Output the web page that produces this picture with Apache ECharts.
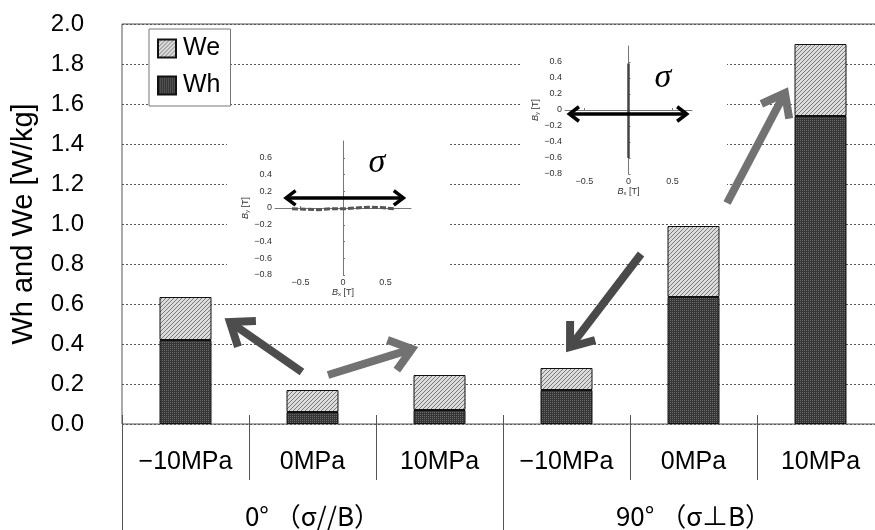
<!DOCTYPE html>
<html>
<head>
<meta charset="utf-8">
<script src="https://cdn.jsdelivr.net/npm/echarts@6/dist/echarts.min.js"></script>
<style>
  html, body { margin: 0; padding: 0; background: #fff; overflow: hidden; }
  /* plot frame runs a few px past the right edge of the picture, like the source figure */
  #main { width: 884px; height: 530px; }
</style>
</head>
<body>
<div id="main"></div>
<script>
// categories and values
const categories = ['−10MPa', '0MPa', '10MPa', '−10MPa', '0MPa', '10MPa'];
const groups = ['0° （σ//B）', '90° （σ⊥B）'];
const whValues = [0.42, 0.06, 0.07, 0.17, 0.635, 1.54];
const weValues = [0.215, 0.11, 0.175, 0.11, 0.355, 0.36];

// arrows in main chart: [x0, y0, x1, y1] (x on 0..6 category span, y in W/kg)
const bigArrows = [
  [1.417, 0.26, 0.85, 0.51],
  [1.622, 0.245, 2.283, 0.375],
  [4.087, 0.85, 3.528, 0.385],
  [4.764, 1.105, 5.22, 1.655]
];
const bigArrowColors = ['#4d4d4d', '#727272', '#4a4a4a', '#727272'];

// inset B loci
const inset1Loop = [[-0.6, -0.01], [-0.45, -0.015], [-0.3, -0.02], [-0.15, -0.01], [0, -0.01], [0.15, 0.0], [0.3, 0.01], [0.45, 0.005], [0.6, -0.01]];
const inset2Loop = [[0, -0.6], [0, -0.3], [0, 0], [0, 0.3], [0, 0.58]];
const inset1Arrow = [[-0.67, 0.12, 0.71, 0.12]];
const inset2Arrow = [[-0.67, -0.05, 0.66, -0.05]];
const inset1Sigma = [[0.4, 0.54]];
const inset2Sigma = [[0.39, 0.4]];
const insetXTicks = [-0.5, 0, 0.5];
const insetYTicks = [-0.8, -0.6, -0.4, -0.2, 0, 0.2, 0.4, 0.6];

function makePattern(kind) {
  const c = document.createElement('canvas');
  c.width = 4; c.height = 4;
  const ctx = c.getContext('2d');
  if (kind === 'we') {
    ctx.fillStyle = '#dcdcdc';
    ctx.fillRect(0, 0, 4, 4);
    ctx.fillStyle = '#7a7a7a';
    for (let i = 0; i < 4; i++) ctx.fillRect(i, 3 - i, 1, 1);
  } else {
    ctx.fillStyle = '#363636';
    ctx.fillRect(0, 0, 4, 4);
    ctx.fillStyle = '#6a6a6a';
    ctx.fillRect(0, 0, 1, 1);
    ctx.fillRect(2, 2, 1, 1);
    ctx.fillRect(2, 0, 1, 1);
    ctx.fillRect(0, 2, 1, 1);
  }
  return { image: c, repeat: 'repeat' };
}

function arrowHead(tip, ux, uy, len, ang) {
  const bx = -ux, by = -uy;
  const ca = Math.cos(ang), sa = Math.sin(ang);
  return [
    [tip[0] + len * (bx * ca - by * sa), tip[1] + len * (bx * sa + by * ca)],
    tip,
    [tip[0] + len * (bx * ca + by * sa), tip[1] + len * (-bx * sa + by * ca)]
  ];
}

function arrowRenderer(colors, width, headLen, both) {
  return function (params, api) {
    const p0 = api.coord([api.value(0), api.value(1)]);
    const p1 = api.coord([api.value(2), api.value(3)]);
    const dx = p1[0] - p0[0], dy = p1[1] - p0[1];
    const L = Math.hypot(dx, dy);
    const ux = dx / L, uy = dy / L;
    const color = colors[params.dataIndex % colors.length];
    const st = { stroke: color, lineWidth: width, fill: null, lineJoin: 'miter', lineCap: 'butt' };
    const children = [
      { type: 'line', shape: { x1: p0[0] + (both ? ux * 3 : 0), y1: p0[1] + (both ? uy * 3 : 0), x2: p1[0] - ux * 3, y2: p1[1] - uy * 3 }, style: st },
      { type: 'polyline', shape: { points: arrowHead(p1, ux, uy, headLen, 0.65) }, style: st }
    ];
    if (both) {
      children.push({ type: 'polyline', shape: { points: arrowHead(p0, -ux, -uy, headLen, 0.65) }, style: st });
    }
    return { type: 'group', children: children };
  };
}

function sigmaRenderer(params, api) {
  const p = api.coord([api.value(0), api.value(1)]);
  return {
    type: 'text',
    x: p[0], y: p[1],
    style: { text: 'σ', font: 'italic 34px "Liberation Serif"', fill: '#000', align: 'center', verticalAlign: 'middle' }
  };
}

function numFmt(v) {
  if (Math.abs(v) < 1e-9) return '0';
  return String(+v.toFixed(1)).replace('-', '−');
}

const insetNameStyle = {
  fontSize: 9, color: '#333',
  rich: {
    i: { fontStyle: 'italic', fontSize: 9, color: '#333' },
    s: { fontSize: 6, color: '#333', verticalAlign: 'bottom' }
  }
};

function insetX(gridIndex, min, max) {
  return {
    type: 'value', gridIndex: gridIndex, min: min, max: max, z: 2,
    name: '{i|B}{s|x} [T]', nameLocation: 'middle', nameGap: 10,
    nameTextStyle: insetNameStyle,
    axisLine: { show: true, lineStyle: { color: '#777', width: 1 } },
    axisTick: { show: true, inside: true, length: 2, customValues: insetXTicks, lineStyle: { color: '#777' } },
    axisLabel: { fontSize: 9, color: '#333', margin: 3, customValues: insetXTicks, formatter: numFmt },
    splitLine: { show: false }
  };
}

function insetY(gridIndex) {
  return {
    type: 'value', gridIndex: gridIndex, min: -0.8, max: 0.8, z: 2,
    name: '{i|B}{s|y} [T]', nameLocation: 'middle', nameGap: 22, nameRotate: 90,
    nameTextStyle: insetNameStyle,
    axisLine: { show: true, lineStyle: { color: '#777', width: 1 } },
    axisTick: { show: true, inside: true, length: 2, customValues: insetYTicks, lineStyle: { color: '#777' } },
    axisLabel: { fontSize: 9, color: '#333', margin: 3, customValues: insetYTicks, formatter: numFmt },
    splitLine: { show: false }
  };
}

const chart = echarts.init(document.getElementById('main'));

const option = {
  backgroundColor: '#fff',
  animation: false,
  textStyle: { fontFamily: '"Liberation Sans", Arial, sans-serif' },
  graphic: [
    { type: 'rect', z: 1, shape: { x: 227, y: 128, width: 223, height: 170 }, style: { fill: '#fff' } },
    { type: 'rect', z: 1, shape: { x: 520, y: 33, width: 207, height: 167 }, style: { fill: '#fff' } }
  ],
  legend: {
    data: ['We', 'Wh'],
    orient: 'vertical',
    left: 149, top: 29,
    icon: 'rect',
    itemWidth: 18, itemHeight: 18, itemGap: 12,
    padding: [7, 10, 8, 8],
    backgroundColor: '#fff',
    borderColor: '#777', borderWidth: 1, borderRadius: 0,
    textStyle: { fontSize: 25, color: '#000', padding: [0, 0, 0, 2] }
  },
  grid: [
    { left: 122, top: 24, right: 0, height: 400, show: true, borderColor: '#555', borderWidth: 1, backgroundColor: 'transparent' },
    { left: 275, top: 141, width: 136, height: 134 },
    { left: 565, top: 46, width: 127, height: 128 }
  ],
  xAxis: [
    {
      type: 'category', gridIndex: 0, data: categories, position: 'bottom', offset: -9,
      axisLine: { show: false },
      axisTick: { show: true, interval: 0, length: 65, lineStyle: { color: '#555' } },
      axisLabel: { interval: 0, fontSize: 25, color: '#000', margin: 35 },
      splitLine: { show: false }
    },
    {
      type: 'category', gridIndex: 0, data: groups, position: 'bottom', offset: -9,
      axisLine: { show: false },
      axisTick: { show: true, interval: 0, length: 115, lineStyle: { color: '#555' } },
      axisLabel: { interval: 0, fontSize: 26, color: '#000', margin: 88, fontFamily: '"Noto Sans CJK JP"' },
      splitLine: { show: false }
    },
    { type: 'value', gridIndex: 0, min: 0, max: 6, show: false },
    insetX(1, -0.8, 0.8),
    insetX(2, -0.72, 0.72)
  ],
  yAxis: [
    {
      type: 'value', gridIndex: 0, min: 0, max: 2, interval: 0.2,
      name: 'Wh and We [W/kg]', nameLocation: 'middle', nameGap: 84,
      nameTextStyle: { fontSize: 29, color: '#000' },
      axisLine: { show: false },
      axisTick: { show: false },
      axisLabel: { fontSize: 24, color: '#000', margin: 38, formatter: v => v.toFixed(1) },
      splitLine: { show: true, lineStyle: { color: '#555', type: [2, 2], width: 1 } }
    },
    insetY(1),
    insetY(2)
  ],
  series: [
    {
      name: 'Wh', type: 'bar', stack: 'w', xAxisIndex: 0, yAxisIndex: 0,
      barWidth: 52, data: whValues,
      itemStyle: { color: makePattern('wh'), borderColor: '#111', borderWidth: 1 }
    },
    {
      name: 'We', type: 'bar', stack: 'w', xAxisIndex: 0, yAxisIndex: 0,
      barWidth: 52, data: weValues,
      itemStyle: { color: makePattern('we'), borderColor: '#111', borderWidth: 1 }
    },
    {
      type: 'custom', xAxisIndex: 2, yAxisIndex: 0, z: 5, silent: true,
      data: bigArrows, renderItem: arrowRenderer(bigArrowColors, 8, 26, false)
    },
    {
      type: 'line', xAxisIndex: 3, yAxisIndex: 1, z: 3, showSymbol: false, silent: true,
      data: inset1Loop, lineStyle: { color: '#555', width: 3, type: [6, 2] }
    },
    {
      type: 'custom', xAxisIndex: 3, yAxisIndex: 1, z: 4, silent: true,
      data: inset1Arrow, renderItem: arrowRenderer(['#000'], 3.5, 12, true)
    },
    {
      type: 'custom', xAxisIndex: 3, yAxisIndex: 1, z: 4, silent: true,
      data: inset1Sigma, renderItem: sigmaRenderer
    },
    {
      type: 'line', xAxisIndex: 4, yAxisIndex: 2, z: 3, showSymbol: false, silent: true,
      data: inset2Loop, lineStyle: { color: '#444', width: 2.5 }
    },
    {
      type: 'custom', xAxisIndex: 4, yAxisIndex: 2, z: 4, silent: true,
      data: inset2Arrow, renderItem: arrowRenderer(['#000'], 3.5, 12, true)
    },
    {
      type: 'custom', xAxisIndex: 4, yAxisIndex: 2, z: 4, silent: true,
      data: inset2Sigma, renderItem: sigmaRenderer
    }
  ]
};

chart.setOption(option);
</script>
</body>
</html>
